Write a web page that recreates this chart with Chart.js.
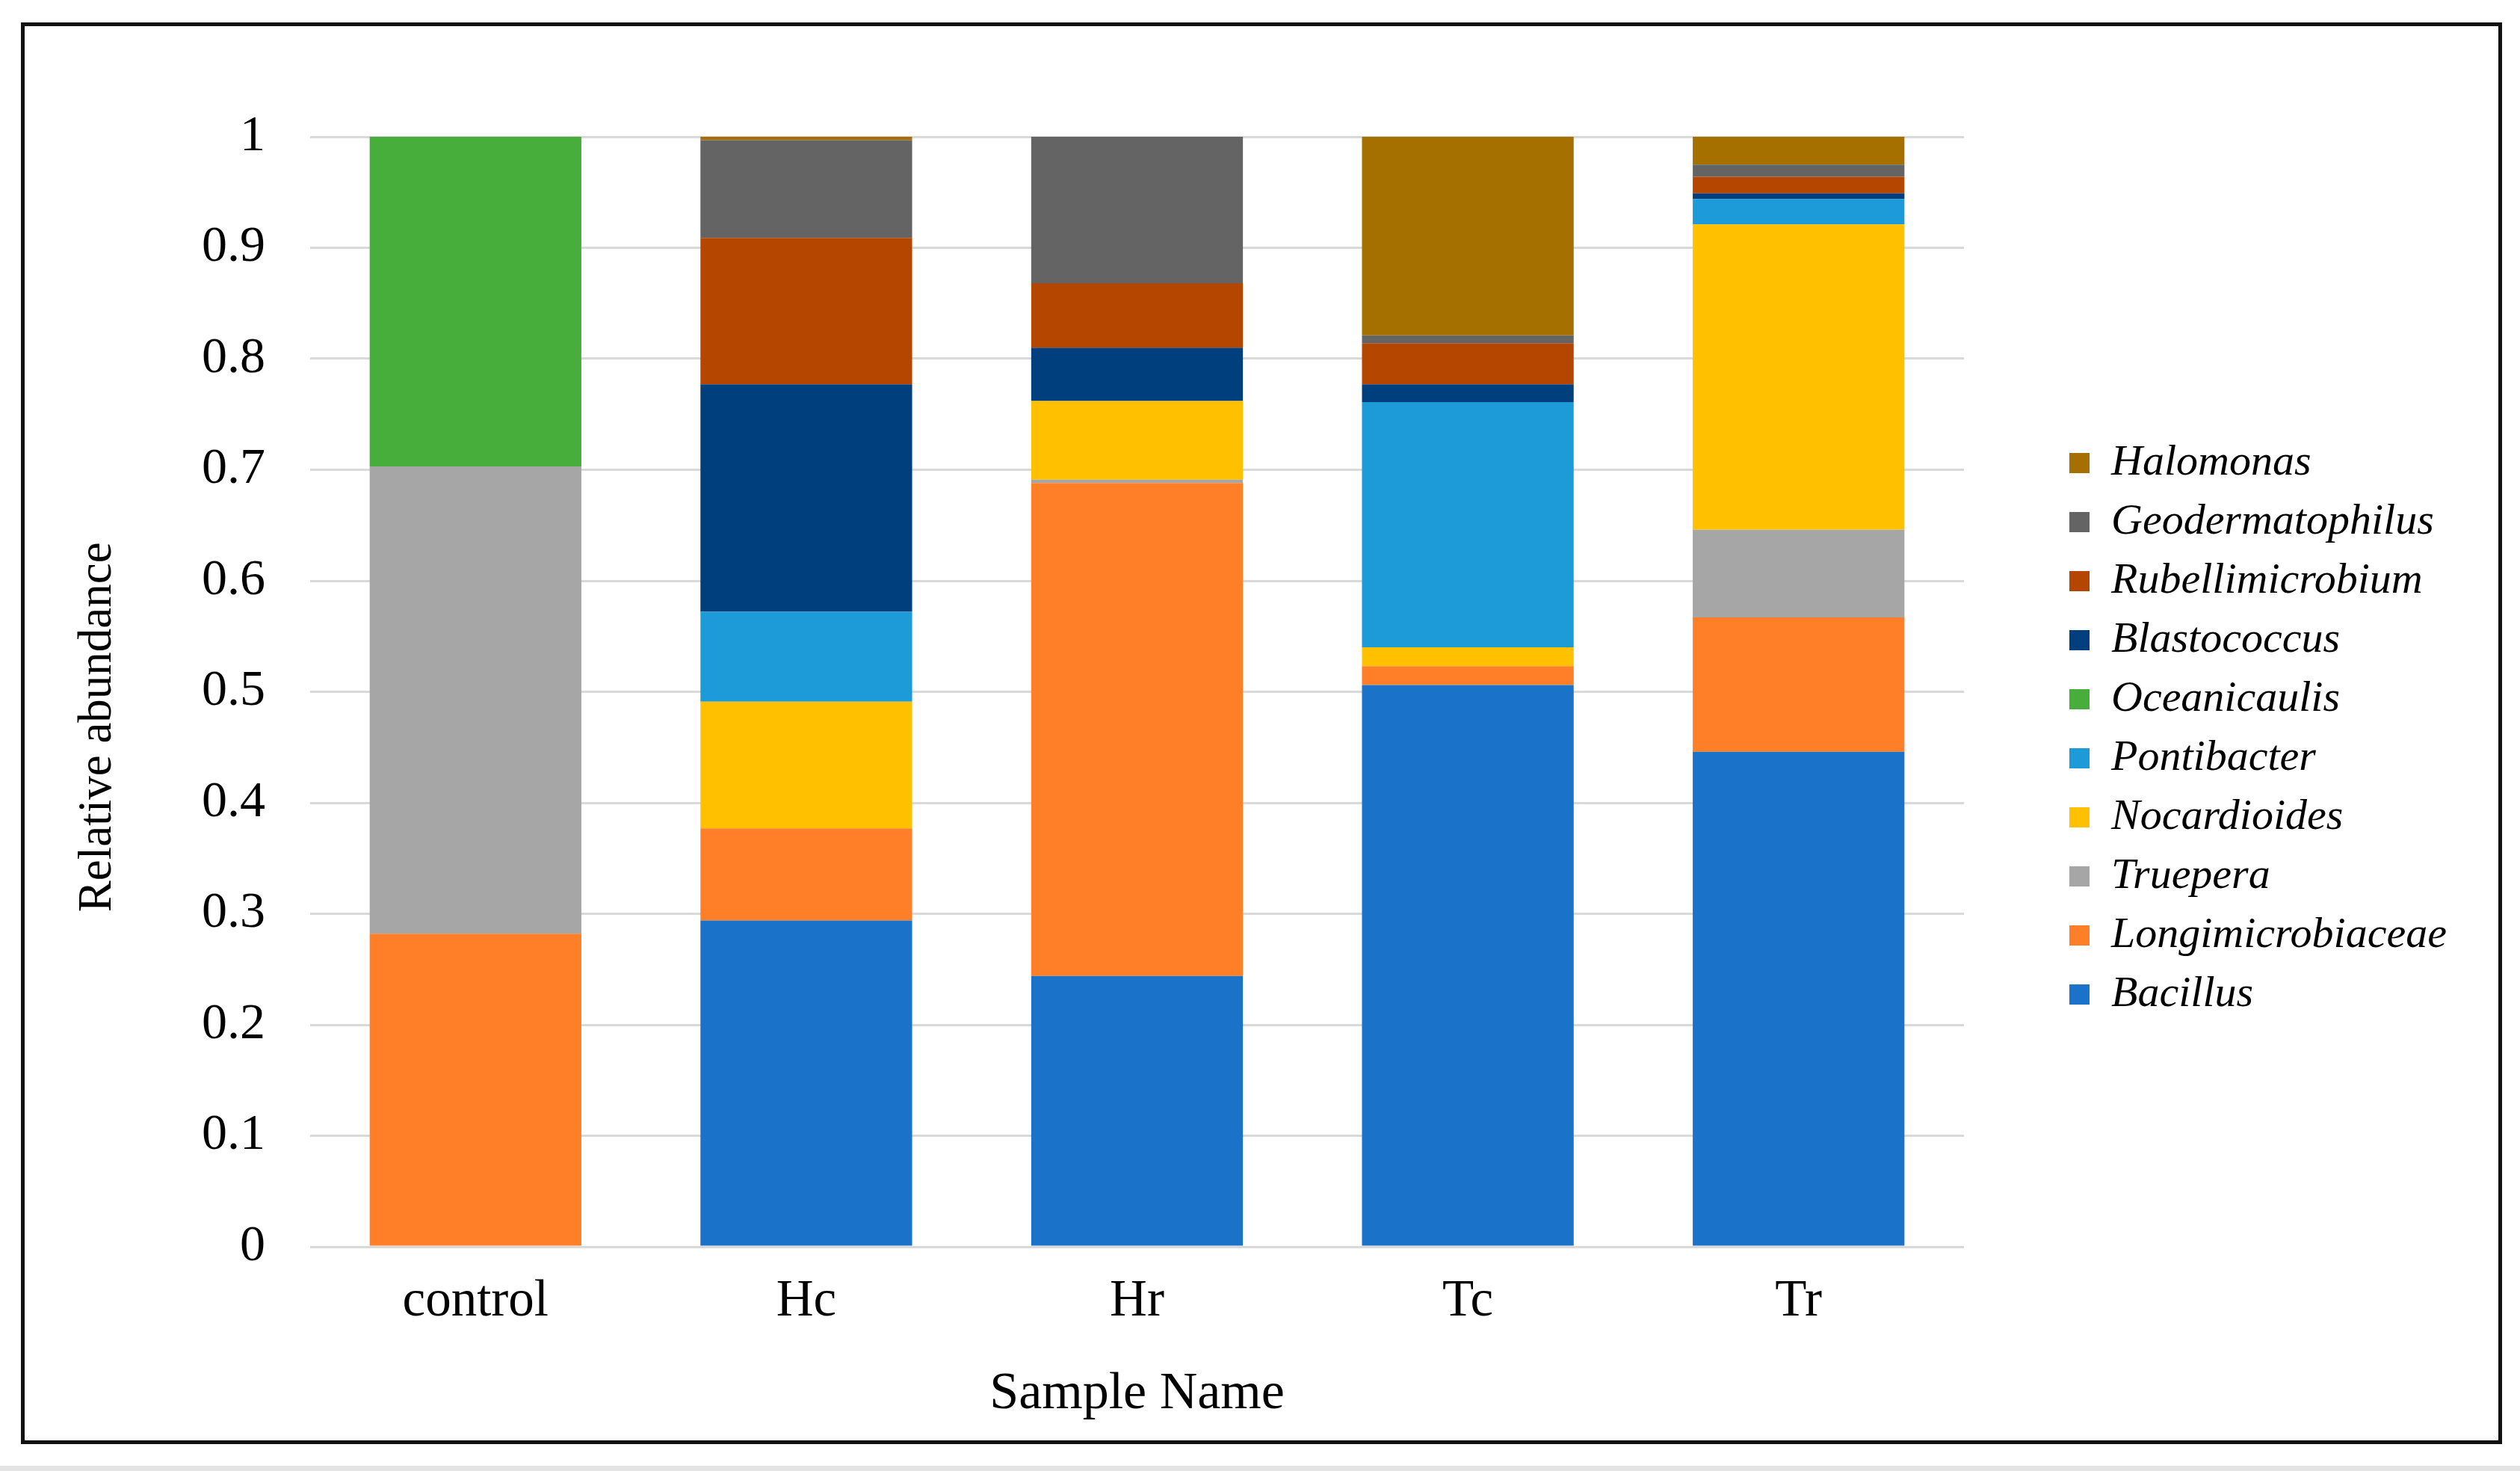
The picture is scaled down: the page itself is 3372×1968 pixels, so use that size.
<!DOCTYPE html>
<html>
<head>
<meta charset="utf-8">
<script src="https://cdn.jsdelivr.net/npm/chart.js@4/dist/chart.umd.min.js"></script>
<style>
  html, body { margin: 0; padding: 0; background: #ffffff; }
  #wrap { position: relative; width: 3372px; height: 1968px; overflow: hidden; }
  #c { position: absolute; left: 0; top: 0; }
  #frame { position: absolute; left: 28px; top: 30px; width: 3310px; height: 1892px;
           border: 5px solid #111; pointer-events: none; }
  #strip { position: absolute; left: 0; top: 1961px; width: 3372px; height: 7px; background: #e4e4e4; }
</style>
</head>
<body>
<div id="wrap">
  <canvas id="c" width="3372" height="1968"></canvas>
  <div id="frame"></div>
  <div id="strip"></div>
</div>
<script>
// ---- data ----
const categories = ['control', 'Hc', 'Hr', 'Tc', 'Tr'];
const yTickLabels = ['0', '0.1', '0.2', '0.3', '0.4', '0.5', '0.6', '0.7', '0.8', '0.9', '1'];

const bacillus          = [0.000, 0.294, 0.244, 0.506, 0.446];
const longimicrobiaceae = [0.282, 0.083, 0.444, 0.017, 0.121];
const truepera          = [0.421, 0.000, 0.003, 0.000, 0.079];
const nocardioides      = [0.000, 0.114, 0.071, 0.017, 0.275];
const pontibacter       = [0.000, 0.081, 0.000, 0.221, 0.023];
const oceanicaulis      = [0.297, 0.000, 0.000, 0.000, 0.000];
const blastococcus      = [0.000, 0.205, 0.048, 0.016, 0.005];
const rubellimicrobium  = [0.000, 0.132, 0.058, 0.037, 0.015];
const geodermatophilus  = [0.000, 0.088, 0.132, 0.007, 0.011];
const halomonas         = [0.000, 0.003, 0.000, 0.179, 0.025];

const seriesNames = ['Bacillus', 'Longimicrobiaceae', 'Truepera', 'Nocardioides', 'Pontibacter',
                     'Oceanicaulis', 'Blastococcus', 'Rubellimicrobium', 'Geodermatophilus', 'Halomonas'];
const seriesValues = [bacillus, longimicrobiaceae, truepera, nocardioides, pontibacter,
                      oceanicaulis, blastococcus, rubellimicrobium, geodermatophilus, halomonas];
const seriesColors = ['#1A73C8', '#FE7F27', '#A6A6A6', '#FFC000', '#1D9BD8',
                      '#47AD3B', '#003F7E', '#B54600', '#646464', '#A57000'];

// ---- layout targets ----
const AREA_LEFT = 415, AREA_RIGHT = 2628, AREA_TOP = 183, AREA_BOTTOM = 1668;
const PAD_BOTTOM = 18;
const SERIF = "'Liberation Serif', 'Times New Roman', serif";

const datasets = seriesNames.map((name, i) => ({
  label: name,
  data: seriesValues[i],
  backgroundColor: seriesColors[i],
  borderWidth: 0,
  barPercentage: 0.64,
  categoryPercentage: 1.0
}));

const chart = new Chart(document.getElementById('c'), {
  type: 'bar',
  data: { labels: categories, datasets: datasets },
  options: {
    responsive: false,
    animation: false,
    devicePixelRatio: 1,
    layout: { padding: { left: 0, right: 0, top: 0, bottom: PAD_BOTTOM } },
    plugins: {
      tooltip: { enabled: false },
      title: {
        display: true, text: '', fullSize: false,
        font: { size: 1, lineHeight: 1 },
        padding: { top: AREA_TOP - 1, bottom: 0 }
      },
      legend: {
        display: true,
        position: 'right',
        align: 'center',
        reverse: true,
        labels: {
          boxWidth: 27,
          boxHeight: 27,
          padding: 21,
          color: '#000',
          font: { family: SERIF, size: 58, style: 'italic' }
        }
      }
    },
    scales: {
      x: {
        stacked: true,
        grid: { display: false },
        border: { display: false },
        ticks: { color: '#000', padding: 24, font: { family: SERIF, size: 69 } },
        title: {
          display: true, text: 'Sample Name', color: '#000',
          font: { family: SERIF, size: 70 },
          padding: { top: 0, bottom: 42 }
        },
        afterFit: (s) => { s.height = 1968 - PAD_BOTTOM - AREA_BOTTOM; }
      },
      y: {
        stacked: true,
        min: 0, max: 1,
        grid: { color: '#D9D9D9', lineWidth: 3, drawTicks: false },
        border: { display: false },
        ticks: {
          stepSize: 0.1, padding: 60, color: '#000',
          font: { family: SERIF, size: 68 },
          callback: (v, i) => yTickLabels[i]
        },
        title: {
          display: true, text: 'Relative abundance      ', color: '#000',
          font: { family: SERIF, size: 63 },
          padding: { top: 94, bottom: 0 }
        },
        afterFit: (s) => { s.width = AREA_LEFT; }
      },
      gap: {
        type: 'linear',
        position: 'right',
        display: true,
        grid: { display: false },
        border: { display: false },
        ticks: { display: false },
        afterFit: (s) => { s.width = 120; }
      }
    }
  }
});

// align the plot's right edge with the reference
const dx = chart.chartArea.right - AREA_RIGHT;
if (Math.abs(dx) > 0.5) {
  chart.options.layout.padding.right = Math.max(0, dx);
  chart.update();
}
</script>
</body>
</html>
